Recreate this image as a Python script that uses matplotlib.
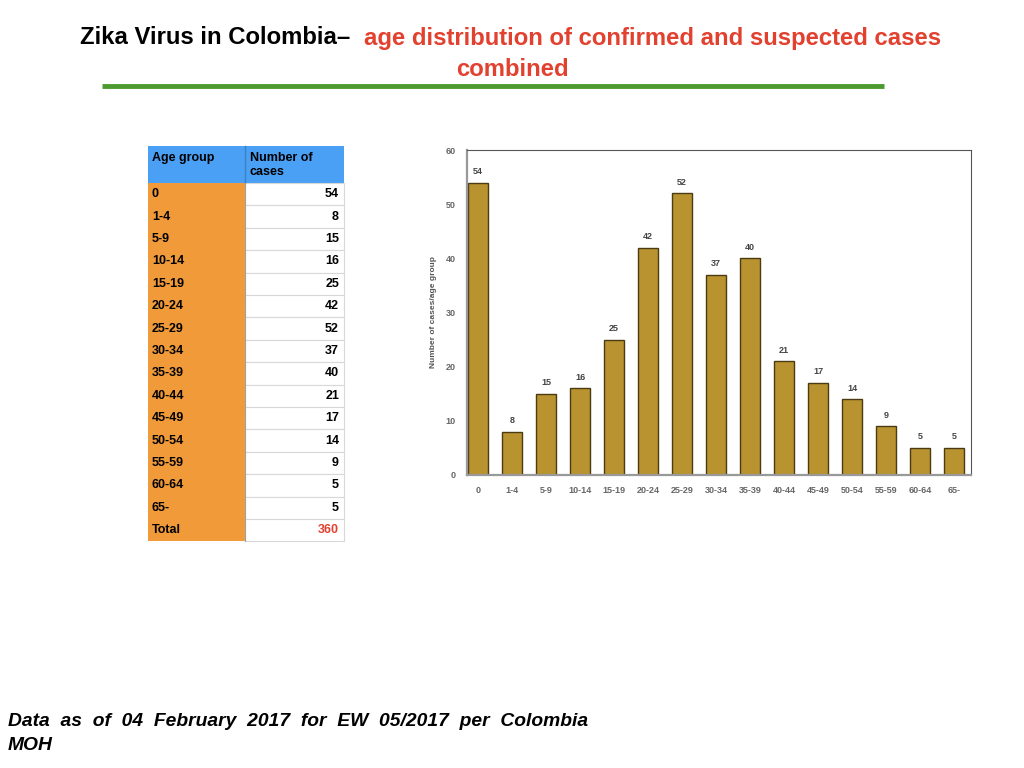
import matplotlib
matplotlib.use("Agg")
from matplotlib import pyplot as plt
from matplotlib.patches import Rectangle
import numpy as np

age_groups = ['0', '1-4', '5-9', '10-14', '15-19', '20-24', '25-29', '30-34',
              '35-39', '40-44', '45-49', '50-54', '55-59', '60-64', '65-']
cases = [54, 8, 15, 16, 25, 42, 52, 37, 40, 21, 17, 14, 9, 5, 5]
total = sum(cases)

plt.rcParams['font.family'] = ['Liberation Sans', 'DejaVu Sans']

fig = plt.figure(figsize=(10.24, 7.68), dpi=100)

# full-figure layer in pixel coordinates for the title, table and footer
bg = fig.add_axes([0, 0, 1, 1])
bg.set_xlim(0, 1024)
bg.set_ylim(768, 0)
bg.axis('off')

t1 = bg.text(80, 38, 'Zika Virus in Colombia\u2013  ', fontsize=17.2, fontweight='bold',
             color='black', ha='left', va='center')
bg.annotate('age distribution of confirmed and suspected cases', xy=(1, 0.5),
            xycoords=t1, va='center', ha='left', fontsize=17.2, fontweight='bold',
            color='#e2412f')
bg.text(512, 70, 'combined', fontsize=17.2, fontweight='bold', color='#e2412f',
        ha='center', va='center')
bg.plot([102, 884], [86, 86], color='#4c9a2f', lw=3.5, solid_capstyle='butt')

# table
x0, xm, x1 = 148, 245, 344
head_top, head_bot = 146, 183
row_h = 22.4
blue = '#4aa0f5'
orange = '#f09a3a'
grid = '#d8d8d8'

bg.add_patch(Rectangle((x0, head_top), x1 - x0, head_bot - head_top, facecolor=blue, edgecolor='none'))
bg.plot([xm, xm], [head_top, head_bot], color='#3f7fc0', lw=1)
bg.text(x0 + 4, head_top + 6, 'Age group', fontsize=9, fontweight='bold', va='top')
bg.text(xm + 5, head_top + 6, 'Number of\ncases', fontsize=9, fontweight='bold', va='top',
        linespacing=1.25)

labels = age_groups + ['Total']
values = cases + [total]
for i, (lab, val) in enumerate(zip(labels, values)):
    top = head_bot + i * row_h
    bg.add_patch(Rectangle((x0, top), xm - x0, row_h, facecolor=orange, edgecolor='none'))
    bg.add_patch(Rectangle((xm, top), x1 - xm, row_h, facecolor='white', edgecolor=grid, lw=0.8))
    bg.text(x0 + 4, top + row_h / 2, lab, fontsize=9, fontweight='bold', va='center')
    bg.text(x1 - 5, top + row_h / 2, str(val), fontsize=9, fontweight='bold', va='center',
            ha='right', color='#e2412f' if lab == 'Total' else 'black')
bg.plot([xm, xm], [head_bot, head_bot + len(labels) * row_h], color='#a0a0a0', lw=0.8)

# footer
bg.text(8, 721, 'Data  as  of  04  February  2017  for  EW  05/2017  per  Colombia',
        fontsize=13.9, fontweight='bold', style='italic', va='center', ha='left')
bg.text(8, 745, 'MOH', fontsize=13.9, fontweight='bold', style='italic', va='center', ha='left')

# bar chart
ax = fig.add_axes([467 / 1024, 1 - 475 / 768, (971 - 467) / 1024, (475 - 150) / 768])
x = np.arange(len(age_groups))
bars = ax.bar(x, cases, width=0.6, color='#b8932f', edgecolor='#4a3b12', linewidth=1.0)
for xi, v in zip(x, cases):
    ax.text(xi, v + 1.2, str(v), ha='center', va='bottom', fontsize=6.5,
            fontweight='bold', color='#444444')
ax.set_xlim(-0.33, 14.5)
ax.set_ylim(0, 60)
ax.set_xticks(x)
ax.set_xticklabels(age_groups, fontweight='bold')
ax.set_yticks(range(0, 61, 10))
ax.set_yticklabels([str(v) for v in range(0, 61, 10)], fontweight='bold')
ax.tick_params(length=0, labelsize=6.5, labelcolor='#666666', pad=8)
ax.set_ylabel('Number of cases/age group', fontsize=6, fontweight='bold',
              color='#555555', labelpad=6)
for s in ['top', 'right']:
    ax.spines[s].set_color('#555555')
    ax.spines[s].set_linewidth(0.8)
for s in ['left', 'bottom']:
    ax.spines[s].set_color('#999999')
    ax.spines[s].set_linewidth(1.6)

fig.savefig('out.png', dpi=100)
